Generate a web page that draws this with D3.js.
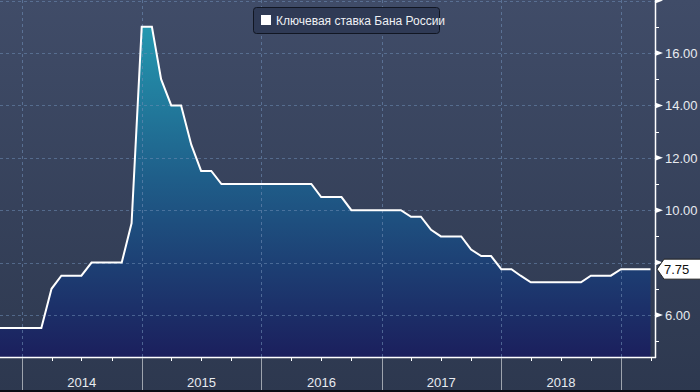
<!DOCTYPE html>
<html><head><meta charset="utf-8">
<script src="https://cdn.jsdelivr.net/npm/d3@7"></script>
<style>html,body{margin:0;padding:0;background:#2e3a52;}svg{display:block;}</style>
</head><body>
<svg id="c" width="700" height="392"></svg>
<script>
// ---- data (monthly, first day of month) ----
const months = [
 "2013-10","2013-11","2013-12",
 "2014-01","2014-02","2014-03","2014-04","2014-05","2014-06","2014-07","2014-08","2014-09","2014-10","2014-11","2014-12",
 "2015-01","2015-02","2015-03","2015-04","2015-05","2015-06","2015-07","2015-08","2015-09","2015-10","2015-11","2015-12",
 "2016-01","2016-02","2016-03","2016-04","2016-05","2016-06","2016-07","2016-08","2016-09","2016-10","2016-11","2016-12",
 "2017-01","2017-02","2017-03","2017-04","2017-05","2017-06","2017-07","2017-08","2017-09","2017-10","2017-11","2017-12",
 "2018-01","2018-02","2018-03","2018-04","2018-05","2018-06","2018-07","2018-08","2018-09","2018-10","2018-11","2018-12",
 "2019-01","2019-02","2019-03","2019-04"];
const rate = [
 5.5,5.5,5.5,
 5.5,5.5,5.5,7.0,7.5,7.5,7.5,8.0,8.0,8.0,8.0,9.5,
 17,17,15,14,14,12.5,11.5,11.5,11,11,11,11,
 11,11,11,11,11,11,10.5,10.5,10.5,10,10,10,
 10,10,10,9.75,9.75,9.25,9,9,9,8.5,8.25,8.25,
 7.75,7.75,7.5,7.25,7.25,7.25,7.25,7.25,7.25,7.5,7.5,7.5,
 7.75,7.75,7.75,7.75];
const yearLabels = ["2014","2015","2016","2017","2018"];
const yMajor = [6,8,10,12,14,16,18];
const yMinor = [5,7,9,11,13,15,17];
const yLabelVals = [6,10,12,14,16];   // 8.00 is hidden behind the last-value label
const lastValue = 7.75;
const legendText = "Ключевая ставка Бана России";

const parse = d3.timeParse("%Y-%m");
const data = months.map((m,i)=>({d:parse(m), v:rate[i]}));

const W=700,H=392, plotR=655, plotB=357;
const svg = d3.select("#c");
const x = d3.scaleTime().domain([new Date(2014,0,1), new Date(2019,0,1)]).range([22,621]);
const y = d3.scaleLinear().domain([6,16]).range([315,53]);

const defs = svg.append("defs");
const bg = defs.append("linearGradient").attr("id","bg").attr("x1",0).attr("y1",0).attr("x2",0).attr("y2",1);
bg.append("stop").attr("offset","0%").attr("stop-color","#404c68");
bg.append("stop").attr("offset","100%").attr("stop-color","#2d384f");
const ag = defs.append("linearGradient").attr("id","ag").attr("gradientUnits","userSpaceOnUse")
  .attr("x1",0).attr("y1",y(17)).attr("x2",0).attr("y2",plotB);
ag.append("stop").attr("offset","0%").attr("stop-color","#2498b0");
ag.append("stop").attr("offset","45%").attr("stop-color","#1f5f8a");
ag.append("stop").attr("offset","100%").attr("stop-color","#1b1f5d");
defs.append("clipPath").attr("id","clip").append("rect").attr("x",0).attr("y",0).attr("width",plotR).attr("height",plotB);

svg.append("rect").attr("width",W).attr("height",H).attr("fill","url(#bg)");

const g = svg.append("g").attr("clip-path","url(#clip)");
const area = d3.area().x(d=>x(d.d)).y0(plotB).y1(d=>y(d.v));
const line = d3.line().x(d=>x(d.d)).y(d=>y(d.v));
g.append("path").datum(data).attr("d",area).attr("fill","url(#ag)");

// grid
const yearStarts = d3.range(2014,2020).map(yr=>new Date(yr,0,1));
g.selectAll(".hg").data(yMajor).join("line")
  .attr("x1",0).attr("x2",plotR).attr("y1",d=>Math.round(y(d))+0.5).attr("y2",d=>Math.round(y(d))+0.5)
  .attr("stroke","rgba(110,140,180,0.55)").attr("stroke-dasharray","3,3");
g.selectAll(".vg").data(yearStarts).join("line")
  .attr("y1",0).attr("y2",plotB).attr("x1",d=>Math.round(x(d))+0.5).attr("x2",d=>Math.round(x(d))+0.5)
  .attr("stroke","rgba(110,140,180,0.6)").attr("stroke-dasharray","3,3");

g.append("path").datum(data).attr("d",line).attr("fill","none").attr("stroke","#fff").attr("stroke-width",2).attr("stroke-linejoin","miter");

// axes lines
svg.append("line").attr("x1",0).attr("x2",plotR+1).attr("y1",plotB+0.5).attr("y2",plotB+0.5).attr("stroke","#fff").attr("stroke-width",1.5);
svg.append("line").attr("x1",plotR+0.5).attr("x2",plotR+0.5).attr("y1",0).attr("y2",plotB+1).attr("stroke","#fff").attr("stroke-width",1.5);

// bottom axis: quarter ticks and year separators
const quarters = d3.timeMonth.every(3).range(new Date(2014,0,1), new Date(2019,5,1));
svg.selectAll(".qt").data(quarters.filter(d=>x(d)<=plotR)).join("line")
  .attr("x1",d=>Math.round(x(d))+0.5).attr("x2",d=>Math.round(x(d))+0.5).attr("y1",plotB).attr("y2",plotB+4)
  .attr("stroke","#fff");
svg.selectAll(".ys").data(yearStarts).join("line")
  .attr("x1",d=>Math.round(x(d))+0.5).attr("x2",d=>Math.round(x(d))+0.5).attr("y1",plotB+1).attr("y2",H)
  .attr("stroke","#9ea4ae").attr("stroke-width",1);
svg.selectAll(".yl").data(yearLabels).join("text")
  .attr("x",d=>x(new Date(+d,6,2))).attr("y",387).attr("text-anchor","middle")
  .attr("font-family","Liberation Sans, Arial, sans-serif").attr("font-size",13).attr("fill","#e8ebf0")
  .text(d=>d);

// right axis
svg.selectAll(".mt").data(yMinor).join("line")
  .attr("x1",plotR).attr("x2",plotR+4).attr("y1",d=>Math.round(y(d))+0.5).attr("y2",d=>Math.round(y(d))+0.5)
  .attr("stroke","#fff");
svg.selectAll(".tri").data(yMajor).join("path")
  .attr("d",d=>{const yy=y(d);return `M${plotR},${yy-3}L${plotR+8},${yy}L${plotR},${yy+3}Z`;})
  .attr("fill","#fff");
svg.selectAll(".ylab").data(yLabelVals).join("text")
  .attr("x",665).attr("y",d=>y(d)+5)
  .attr("font-family","Liberation Sans, Arial, sans-serif").attr("font-size",13).attr("fill","#e8ebf0")
  .text(d=>d.toFixed(2));

// last value label
const ly = y(lastValue);
svg.append("path").attr("d",`M657,${ly}L664,${ly-10}L701,${ly-10}L701,${ly+10}L664,${ly+10}Z`)
  .attr("fill","#fff").attr("stroke","#222").attr("stroke-width",1);
svg.append("text").attr("x",664).attr("y",ly+5)
  .attr("font-family","Liberation Sans, Arial, sans-serif").attr("font-size",13).attr("fill","#111")
  .text(lastValue.toFixed(2));

// legend
const lg = svg.append("g");
lg.append("rect").attr("x",253.5).attr("y",7.5).attr("width",186).attr("height",26).attr("rx",3)
  .attr("fill","#2f3a55").attr("stroke","#111622").attr("stroke-width",1);
lg.append("rect").attr("x",261).attr("y",15).attr("width",10).attr("height",10).attr("fill","#fff");
lg.append("text").attr("x",276).attr("y",25)
  .attr("font-family","Liberation Sans, Arial, sans-serif").attr("font-size",12).attr("fill","#eef0f4")
  .text(legendText);

// bottom dark strip
svg.append("rect").attr("x",0).attr("y",390).attr("width",W).attr("height",2).attr("fill","#0a0d14");
</script>
</body></html>
